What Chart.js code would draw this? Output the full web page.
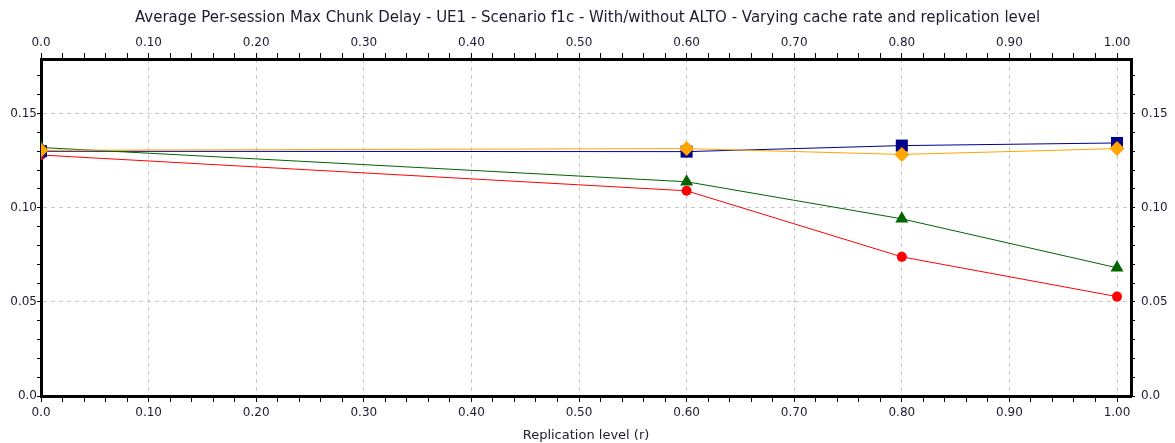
<!DOCTYPE html>
<html>
<head>
<meta charset="utf-8">
<script src="https://cdn.jsdelivr.net/npm/chart.js@4.4.0/dist/chart.umd.min.js"></script>
<style>
  body { margin: 0; background: #fff; }
  #wrap { width: 1175px; height: 443px; }
</style>
</head>
<body>
<div id="wrap"><canvas id="chunkDelay"></canvas></div>
<script>
// replication level on x, avg max chunk delay on y
const replication = [0.0, 0.6, 0.8, 1.0];
const seriesBlue   = [0.1300, 0.1298, 0.1330, 0.1344];
const seriesOrange = [0.1305, 0.1314, 0.1283, 0.1314];
const seriesGreen  = [0.1320, 0.1138, 0.0941, 0.0681];
const seriesRed    = [0.1280, 0.1090, 0.0739, 0.0528];

const xTickLabels = ["0.0", "0.10", "0.20", "0.30", "0.40", "0.50", "0.60", "0.70", "0.80", "0.90", "1.00"];
const yTickLabels = ["0.0", "0.05", "0.10", "0.15"];

const FONT = "'DejaVu Sans', sans-serif";
const TXT = "#1c1c30";

function points(ys) {
  return replication.map(function (x, i) { return { x: x, y: ys[i] }; });
}

// majors every 0.1 on x (minor 0.02), every 0.05 on y (minor 0.01)
function xLabel(v) {
  var i = Math.round(v * 50);
  return i % 5 === 0 ? xTickLabels[i / 5] : "";
}
function yLabel(v) {
  var i = Math.round(v * 100);
  return i % 5 === 0 ? yTickLabels[i / 5] : "";
}
function xGrid(c) {
  return c.tick && Math.round(c.tick.value * 50) % 5 === 0 ? "#c8c8c8" : "rgba(0,0,0,0)";
}
function yGrid(c) {
  return c.tick && Math.round(c.tick.value * 100) % 5 === 0 ? "#c8c8c8" : "rgba(0,0,0,0)";
}

function xScale(pos, withTitle) {
  return {
    type: "linear",
    position: pos,
    min: 0,
    max: 1.013,
    border: { color: "#000", width: 3, dash: [4, 4] },
    grid: { color: xGrid, tickColor: "#000", tickLength: 6, tickWidth: 1, drawOnChartArea: pos === "bottom" },
    ticks: {
      stepSize: 0.02, includeBounds: false, autoSkip: false, maxRotation: 0, padding: pos === "bottom" ? 4 : 3,
      color: TXT, font: { family: FONT, size: 12 }, callback: xLabel
    },
    title: {
      display: withTitle, text: "Replication level (r)", color: TXT,
      font: { family: FONT, size: 13 }, padding: { top: 0, bottom: 0 }
    },
    afterFit: function (s) { s.height = pos === "bottom" ? 47 : 30; }
  };
}

function yScale(pos) {
  return {
    type: "linear",
    position: pos,
    min: 0,
    max: 0.179,
    border: { color: "#000", width: 3, dash: [4, 4] },
    grid: { color: yGrid, tickColor: "#000", tickLength: 4, tickWidth: 1, drawOnChartArea: pos === "left" },
    ticks: {
      stepSize: 0.01, includeBounds: false, autoSkip: false, padding: pos === "left" ? 0 : 6,
      color: TXT, font: { family: FONT, size: 12 }, callback: yLabel
    },
    afterFit: function (s) { s.width = pos === "left" ? 41 : 44; }
  };
}

function series(label, ys, color, shape, radius, order) {
  return {
    label: label,
    data: points(ys),
    borderColor: color,
    backgroundColor: color,
    borderWidth: 1,
    pointStyle: shape,
    pointRadius: radius,
    pointHoverRadius: radius,
    pointBorderWidth: 0,
    clip: 0,
    order: order,
    xAxisID: "x",
    yAxisID: "y"
  };
}

new Chart(document.getElementById("chunkDelay"), {
  type: "line",
  data: {
    datasets: [
      series("blue", seriesBlue, "#00008b", "rect", 8.5, 2),
      series("orange", seriesOrange, "#ffa500", "rectRot", 7.5, 0),
      series("green", seriesGreen, "#006400", "triangle", 7.5, 1),
      series("red", seriesRed, "#ff0000", "circle", 5, 3)
    ]
  },
  options: {
    responsive: true,
    maintainAspectRatio: false,
    animation: false,
    layout: { padding: 0 },
    plugins: {
      legend: { display: false },
      tooltip: { enabled: false },
      title: {
        display: true,
        text: "Average Per-session Max Chunk Delay - UE1 - Scenario f1c - With/without ALTO - Varying cache rate and replication level",
        color: TXT,
        font: { family: FONT, size: 15, weight: "normal" },
        padding: { top: 9, bottom: 2 }
      }
    },
    scales: {
      x: xScale("bottom", true),
      x2: xScale("top", false),
      y: yScale("left"),
      y2: yScale("right")
    }
  }
});
</script>
</body>
</html>
